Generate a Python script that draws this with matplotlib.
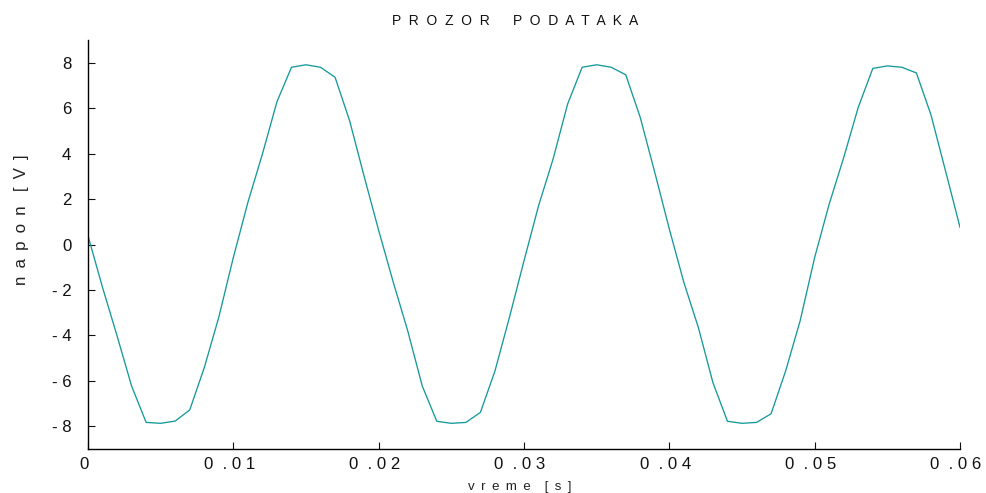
import numpy as np
import matplotlib
matplotlib.use('Agg')
import matplotlib.pyplot as plt
from matplotlib.transforms import ScaledTranslation

plt.rcParams['font.family'] = ['Liberation Sans', 'DejaVu Sans']

# napon signal, sampled every 1 ms
dt = 0.001
napon = [0.38, -1.89, -4.02, -6.23, -7.83, -7.87, -7.77, -7.28, -5.42, -3.20,
         -0.57, 1.85, 3.98, 6.28, 7.80, 7.91, 7.80, 7.36, 5.45, 3.00,
         0.62, -1.65, -3.80, -6.23, -7.78, -7.87, -7.83, -7.39, -5.57, -3.20,
         -0.72, 1.70, 3.76, 6.18, 7.80, 7.91, 7.80, 7.47, 5.59, 3.17,
         0.68, -1.67, -3.66, -6.08, -7.78, -7.87, -7.83, -7.45, -5.57, -3.36,
         -0.57, 1.78, 3.83, 6.04, 7.75, 7.86, 7.80, 7.55, 5.71, 3.25,
         0.76]
vreme = np.arange(len(napon)) * dt

x_ticks = [0, 0.01, 0.02, 0.03, 0.04, 0.05, 0.06]
x_labels = ['0', '0  . 0 1', '0  . 0 2', '0  . 0 3', '0  . 0 4', '0  . 0 5', '0  . 0 6']
y_ticks = [-8, -6, -4, -2, 0, 2, 4, 6, 8]
y_labels = ['- 8', '- 6', '- 4', '- 2', '0', '2', '4', '6', '8']

sp = ' \u2009'  # wide letter spacing


def spaced(words, gap='   '):
    return gap.join(sp.join(w) for w in words)


fig = plt.figure(figsize=(9.86, 4.93), dpi=100)
ax = fig.add_axes([88 / 986, 44 / 493, 872 / 986, 409 / 493])

ax.plot(vreme, napon, color='#17999a', lw=0.95)

ax.set_xlim(0, 0.06)
ax.set_ylim(-9, 9)
ax.set_xticks(x_ticks)
ax.set_xticklabels(x_labels)
ax.set_yticks(y_ticks)
ax.set_yticklabels(y_labels)
ax.tick_params(direction='in', length=5, width=0.8, labelsize=12.1, colors='#111111')
ax.tick_params(axis='x', pad=6)
ax.tick_params(axis='y', pad=12)

# x tick labels sit a little left of their ticks
shift = ScaledTranslation(-3 / 72, 0, fig.dpi_scale_trans)
for lbl in ax.get_xticklabels():
    lbl.set_transform(lbl.get_transform() + shift)

for side in ['top', 'right']:
    ax.spines[side].set_visible(False)
for side in ['left', 'bottom']:
    ax.spines[side].set_linewidth(1.0)

ax.set_title('P  R  O  Z  O  R      P  O  D  A  T  A  K  A', fontsize=10,
             color='#111111', pad=11, x=0.49)
ax.set_xlabel(spaced(['vreme', '[s]'], '   \u2009'), fontsize=9.6, color='#222222',
              labelpad=6, x=0.4955)
ax.set_ylabel(spaced(['napon', '[V]'], '   '), fontsize=12.2, color='#222222')
ax.yaxis.set_label_coords(-0.068, 0.56)

fig.savefig('out.png', dpi=100)
